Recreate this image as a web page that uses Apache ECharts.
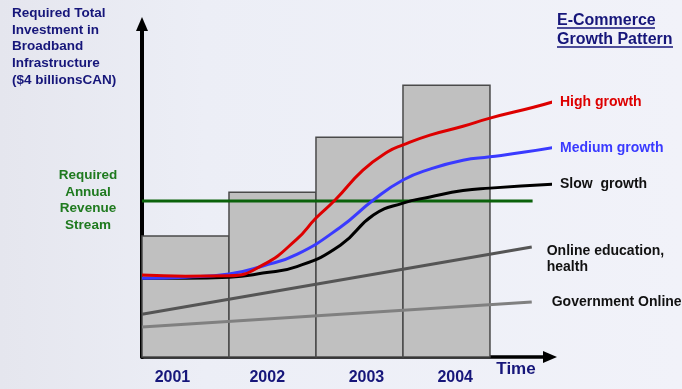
<!DOCTYPE html>
<html>
<head>
<meta charset="utf-8">
<script src="https://cdn.jsdelivr.net/npm/echarts@6/dist/echarts.min.js"></script>
<style>
  html, body { margin: 0; padding: 0; }
  #chart { width: 682px; height: 389px; }
</style>
</head>
<body>
<div id="chart"></div>
<script>
// years under the bars, and where their labels sit on the time axis
const years = ['2001', '2002', '2003', '2004'];
const yearLabelX = [0.35, 1.44, 2.58, 3.6];

// investment bars: [start, end] in time units, height in arbitrary units
const barStart = [0, 1, 2, 3];
const barEnd = [1, 2, 3, 4];
const investment = [35.6, 48.5, 64.7, 80];

// required annual revenue stream (flat line)
const revenueLevel = 45.9;
const revenueSpan = [0, 4.49];

// growth curves, [time, value]
const highGrowth = [[0, 24.1], [0.5, 23.8], [1.0, 23.9], [1.39, 27.1], [1.78, 34.7], [2.0, 40.9],
  [2.22, 46.2], [2.54, 55.0], [2.82, 60.3], [3.0, 62.4], [3.31, 65.3], [3.69, 67.9],
  [4.0, 70.3], [4.5, 73.5], [4.75, 75.3]];
const mediumGrowth = [[0, 23.2], [0.5, 23.5], [1.0, 24.4], [1.39, 26.8], [1.78, 30.2],
  [2.28, 38.2], [2.66, 46.2], [3.0, 52.1], [3.31, 55.3], [3.69, 57.9], [4.0, 58.9], [4.4, 60.3], [4.76, 61.8]];
const slowGrowth = [[0, 23.2], [0.5, 23.2], [1.0, 23.5], [1.39, 24.7], [1.78, 26.6],
  [2.28, 32.9], [2.66, 41.8], [3.0, 45.3], [3.31, 47.1], [3.69, 49.0], [4.0, 49.7], [4.75, 50.9]];
const onlineEducation = [[0, 12.6], [4.48, 32.4]];
const governmentOnline = [[0, 8.8], [4.48, 16.2]];

const navy = '#16167a';
const chart = echarts.init(document.getElementById('chart'));

const barData = years.map((y, i) => [barStart[i], barEnd[i], investment[i]]);

function curve(name, data, color, width, labelColor, distance, offsetY) {
  return {
    name,
    type: 'line',
    data,
    smooth: 0.5,
    symbol: 'none',
    clip: false,
    silent: true,
    lineStyle: { color, width },
    endLabel: {
      show: true,
      formatter: (p) => p.seriesName,
      distance,
      offset: [0, offsetY || 0],
      color: labelColor,
      fontFamily: 'Liberation Sans, Arial, sans-serif',
      fontWeight: 'bold',
      fontSize: 14,
      lineHeight: 16
    },
    z: 4
  };
}

chart.setOption({
  animation: false,
  backgroundColor: {
    type: 'linear', x: 0, y: 0, x2: 1, y2: 0,
    colorStops: [
      { offset: 0, color: '#e5e6ee' },
      { offset: 0.3, color: '#eceef6' },
      { offset: 1, color: '#f1f2f9' }
    ]
  },
  grid: { left: 142, right: 132, top: 24, bottom: 32 },
  xAxis: {
    type: 'value',
    min: 0,
    max: 4.69,
    axisLine: {
      show: true,
      onZero: false,
      symbol: ['none', 'triangle'],
      symbolSize: [12, 14],
      lineStyle: { color: '#000', width: 3.5 }
    },
    axisTick: { show: false },
    axisLabel: { show: false },
    splitLine: { show: false }
  },
  yAxis: {
    type: 'value',
    min: 0,
    max: 98,
    axisLine: {
      show: true,
      symbol: ['none', 'triangle'],
      symbolSize: [12, 14],
      lineStyle: { color: '#000', width: 4 }
    },
    axisTick: { show: false },
    axisLabel: { show: false },
    splitLine: { show: false }
  },
  series: [
    {
      type: 'custom',
      data: barData,
      silent: true,
      z: 1,
      renderItem: (params, api) => {
        const p0 = api.coord([api.value(0), api.value(2)]);
        const p1 = api.coord([api.value(1), 0]);
        return {
          type: 'rect',
          shape: { x: p0[0], y: p0[1], width: p1[0] - p0[0], height: p1[1] - p0[1] },
          style: { fill: '#c0c0c0', stroke: '#4a4a4a', lineWidth: 1.5 }
        };
      }
    },
    {
      name: 'Required revenue',
      type: 'line',
      data: [[revenueSpan[0], revenueLevel], [revenueSpan[1], revenueLevel]],
      symbol: 'none',
      silent: true,
      lineStyle: { color: '#0b620b', width: 3 },
      z: 3
    },
    curve('Government Online', governmentOnline, '#808080', 3, '#111', 20),
    curve('Online education,\nhealth', onlineEducation, '#555555', 3, '#111', 15, 12),
    curve('Slow  growth', slowGrowth, '#000000', 3, '#111', 8),
    curve('Medium growth', mediumGrowth, '#3a3aff', 3, '#3a3aff', 8),
    curve('High growth', highGrowth, '#dd0000', 3, '#dd0000', 8)
  ]
});

const font = 'Liberation Sans, Arial, sans-serif';
const yearTexts = years.map((y, i) => {
  const p = chart.convertToPixel({ gridIndex: 0 }, [yearLabelX[i], 0]);
  return {
    type: 'text',
    x: p[0],
    y: 378,
    style: {
      text: y, fill: navy, font: 'bold 16px ' + font,
      textAlign: 'center', textVerticalAlign: 'middle'
    }
  };
});

chart.setOption({
  graphic: [
    {
      type: 'text', x: 12, y: 5,
      style: {
        text: 'Required Total\nInvestment in\nBroadband\nInfrastructure\n($4 billionsCAN)',
        fill: navy, font: 'bold 13.5px ' + font, lineHeight: 16.7
      }
    },
    {
      type: 'text', x: 557, y: 11,
      style: {
        text: 'E-Commerce\nGrowth Pattern',
        fill: navy, font: 'bold 16px ' + font, lineHeight: 19
      }
    },
    { type: 'line', shape: { x1: 557, y1: 28, x2: 655, y2: 28 }, style: { stroke: navy, lineWidth: 1.5 } },
    { type: 'line', shape: { x1: 557, y1: 47, x2: 673, y2: 47 }, style: { stroke: navy, lineWidth: 1.5 } },
    {
      type: 'text', x: 88, y: 167,
      style: {
        text: 'Required\nAnnual\nRevenue\nStream',
        fill: '#1f7a1f', font: 'bold 13.5px ' + font, lineHeight: 16.7, textAlign: 'center'
      }
    },
    {
      type: 'text', x: 516, y: 369,
      style: {
        text: 'Time', fill: navy, font: 'bold 17px ' + font,
        textAlign: 'center', textVerticalAlign: 'middle'
      }
    }
  ].concat(yearTexts)
});
</script>
</body>
</html>
